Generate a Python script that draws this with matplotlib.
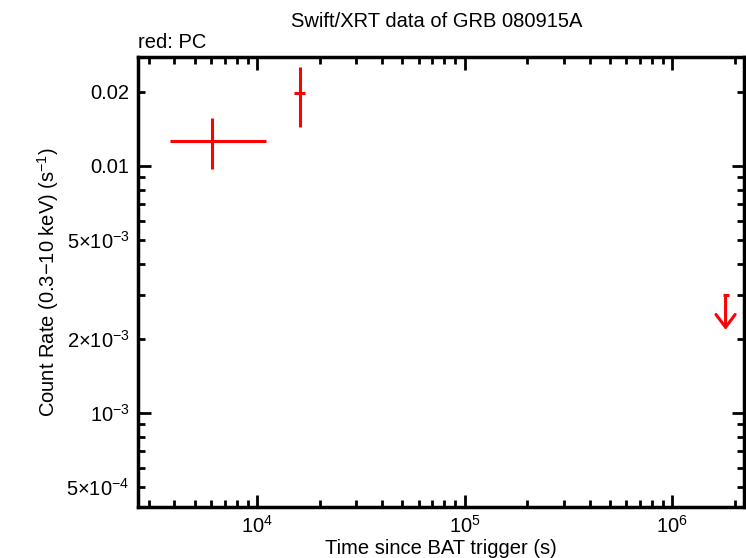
import matplotlib
matplotlib.use("Agg")
import matplotlib.pyplot as plt
from matplotlib.ticker import FixedLocator, NullFormatter, LogLocator
import numpy as np

plt.rcParams["font.family"] = ["Liberation Sans", "DejaVu Sans"]
plt.rcParams["mathtext.fontset"] = "custom"
plt.rcParams["mathtext.rm"] = "Liberation Sans"
plt.rcParams["mathtext.it"] = "Liberation Sans"
plt.rcParams["mathtext.default"] = "regular"

# PC mode detections
pc_time = [6070, 16110]
pc_time_lo = [3810, 15070]
pc_time_hi = [11050, 17020]
pc_rate = [0.01262, 0.01975]
pc_rate_lo = [0.00972, 0.01439]
pc_rate_hi = [0.01563, 0.02518]

# PC mode upper limit
ul_time = [1.81e6]
ul_rate = [0.00299]
ul_arrow_end = [0.00217]

ytick_vals = [5e-4, 1e-3, 2e-3, 5e-3, 0.01, 0.02]
ytick_labels = [r"5$\times$10$^{-4}$", r"10$^{-3}$", r"2$\times$10$^{-3}$",
                r"5$\times$10$^{-3}$", "0.01", "0.02"]
xtick_vals = [1e4, 1e5, 1e6]
xtick_labels = [r"10$^{4}$", r"10$^{5}$", r"10$^{6}$"]

fs = 14.5

fig = plt.figure(figsize=(7.46, 5.58), dpi=100)
ax = fig.add_axes([0.185, 0.0914, 0.8123, 0.8064])

t = np.array(pc_time)
r = np.array(pc_rate)
xerr = [t - np.array(pc_time_lo), np.array(pc_time_hi) - t]
yerr = [r - np.array(pc_rate_lo), np.array(pc_rate_hi) - r]
ax.errorbar(t, r, xerr=xerr, yerr=yerr, fmt="none", ecolor="red",
            elinewidth=2.2, capsize=0)

for x, hi, lo in zip(ul_time, ul_rate, ul_arrow_end):
    ax.annotate("", xy=(x, lo), xytext=(x, hi),
                arrowprops=dict(arrowstyle="->,head_length=0.4,head_width=0.3",
                                color="red", lw=2.2,
                                mutation_scale=23, shrinkA=0, shrinkB=0))
    ax.plot([x], [hi], marker="_", color="red", ms=5, mew=2.2)

ax.set_xscale("log")
ax.set_yscale("log")
ax.set_xlim(2670, 2.22e6)
ax.set_ylim(4.16e-4, 0.0276)

ax.xaxis.set_major_locator(FixedLocator(xtick_vals))
ax.set_xticklabels(xtick_labels)
ax.xaxis.set_minor_locator(LogLocator(base=10, subs=np.arange(2, 10)))
ax.xaxis.set_minor_formatter(NullFormatter())

ax.set_yticks(ytick_vals, ytick_labels, minor=False)
ax.yaxis.set_minor_locator(FixedLocator(
    [v for v in LogLocator(base=10, subs=np.arange(2, 10)).tick_values(4e-4, 0.03)
     if not any(np.isclose(v, ytick_vals))]))
ax.yaxis.set_minor_formatter(NullFormatter())

ax.tick_params(which="both", direction="in", top=True, right=True,
               width=2, labelsize=fs, pad=6)
ax.tick_params(which="major", length=9)
ax.tick_params(which="minor", length=5)
for lbl, tk in zip(ax.yaxis.get_major_ticks(), ytick_vals):
    if tk not in (1e-3, 0.01):
        lbl.tick1line.set_markersize(5)
        lbl.tick2line.set_markersize(5)
for s in ax.spines.values():
    s.set_linewidth(2.5)

ax.set_xlabel("Time since BAT trigger (s)", fontsize=fs, labelpad=1)
ax.set_ylabel("Count Rate (0.3$-$10 keV) (s$^{-1}$)", fontsize=fs, labelpad=4)
fig.text(0.585, 0.962, "Swift/XRT data of GRB 080915A", ha="center",
         va="center", fontsize=fs)
ax.text(0.0, 1.012, "red: PC", transform=ax.transAxes, ha="left",
        va="bottom", fontsize=fs)

fig.savefig("out.png", dpi=100)
